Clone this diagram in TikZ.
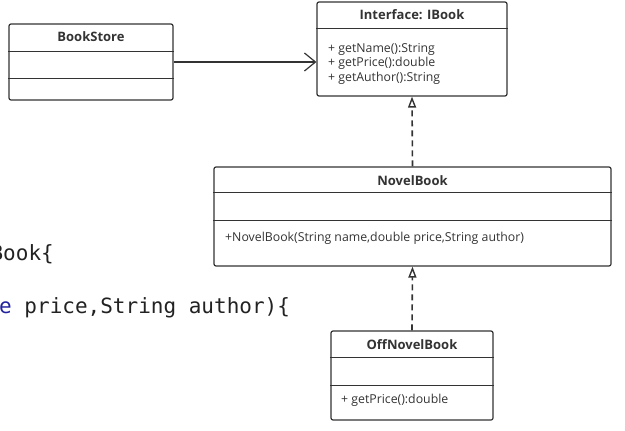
\documentclass[tikz,border=0pt]{standalone}
\usepackage{fontspec}
\setmainfont{Open Sans}
\newfontfamily\codefont{DejaVu Sans Mono}
\usetikzlibrary{arrows.meta}
\definecolor{linegray}{HTML}{333333}
\definecolor{codegray}{HTML}{222222}
\definecolor{keyblue}{HTML}{2323A0}
\begin{document}
\begin{tikzpicture}[x=1pt, y=-1pt,
    every node/.style={text=linegray, inner sep=0pt},
    umlbox/.style={draw=linegray, line width=1.2pt, rounded corners=2pt},
    title/.style={font=\fontsize{13}{14}\selectfont\bfseries},
    member/.style={font=\fontsize{12.3}{14.5}\selectfont, align=left, anchor=west},
    sep/.style={draw=linegray, line width=1.2pt},
    assoc/.style={draw=linegray, line width=1.2pt, -{Straight Barb[length=11pt,width=18pt,line width=1.2pt]}},
    realize/.style={draw=linegray, line width=1.6pt, dash pattern=on 6pt off 4pt,
      -{Triangle[open,length=11pt,width=8pt,line width=1.4pt]}},
    code/.style={font=\codefont\fontsize{21}{24}\selectfont, anchor=base west, text=codegray}
  ]
  \useasboundingbox (0,0) rectangle (625,431);
  \clip (0,0) rectangle (625,431);

  \node[code] (codeA) at (-9.6,260) {Book\{};
  \node[code] (codeB) at (-1,313) {\textcolor{keyblue}{e} price,String author)\{};

  \node[umlbox, minimum width=164pt, minimum height=76pt] (bs) at (91,62) {};
  \node[title] (bst) at (91,37) {BookStore};
  \draw[sep] ([yshift=-28pt]bs.north west) -- ([yshift=-28pt]bs.north east);
  \draw[sep] ([yshift=-55pt]bs.north west) -- ([yshift=-55pt]bs.north east);

  \node[umlbox, minimum width=190pt, minimum height=94pt] (ib) at (412,49) {};
  \node[title] (ibt) at (412,15) {Interface: IBook};
  \draw[sep] ([yshift=-27pt]ib.north west) -- ([yshift=-27pt]ib.north east);
  \node[member] (ibm) at (328,63.5) {+ getName():String\\+ getPrice():double\\+ getAuthor():String};

  \node[umlbox, minimum width=397pt, minimum height=99pt] (nb) at (412.5,216.5) {};
  \node[title] (nbt) at (412.5,181) {NovelBook};
  \draw[sep] ([yshift=-26pt]nb.north west) -- ([yshift=-26pt]nb.north east);
  \draw[sep] ([yshift=-54pt]nb.north west) -- ([yshift=-54pt]nb.north east);
  \node[member] (nbm) at (225,238) {+NovelBook(String name,double price,String author)};

  \node[umlbox, minimum width=162pt, minimum height=89pt] (onb) at (412,375.5) {};
  \node[title] (onbt) at (412,345) {OffNovelBook};
  \draw[sep] ([yshift=-27pt]onb.north west) -- ([yshift=-27pt]onb.north east);
  \draw[sep] ([yshift=-55pt]onb.north west) -- ([yshift=-55pt]onb.north east);
  \node[member] (onbm) at (341,400) {+ getPrice():double};

  \draw[assoc] (bs.east) -- (bs.east -| ib.west);
  \draw[realize] (nb.north) -- (ib.south);
  \draw[realize] (onb.north) -- (nb.south);
\end{tikzpicture}
\end{document}
